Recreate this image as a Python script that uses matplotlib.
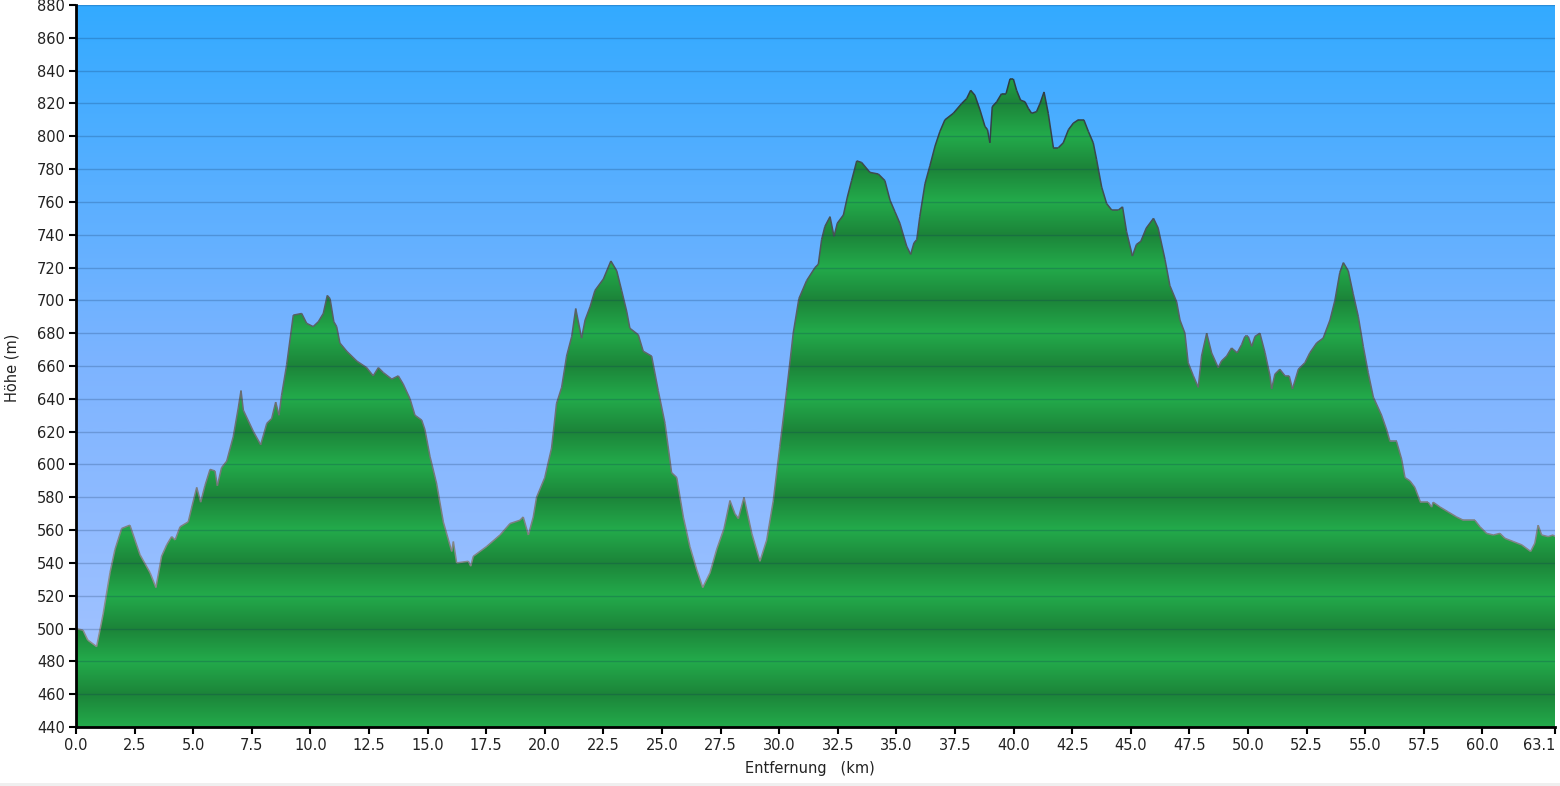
import numpy as np
import matplotlib
matplotlib.use("Agg")
import matplotlib.pyplot as plt
from matplotlib.colors import LinearSegmentedColormap, to_rgb
from matplotlib.patches import Polygon, Rectangle
from matplotlib.collections import LineCollection

# elevation profile (km, m)
distance_km = [
    0.0, 0.3, 0.5, 0.88, 1.16, 1.45, 1.66, 1.95, 2.3, 2.73,
    3.16, 3.41, 3.65, 3.87, 4.08, 4.23, 4.44, 4.79, 4.94, 5.15,
    5.32, 5.5, 5.72, 5.93, 6.03, 6.21, 6.43, 6.71, 6.93, 7.04,
    7.14, 7.57, 7.88, 8.14, 8.35, 8.52, 8.66, 8.77, 8.99, 9.27,
    9.63, 9.84, 10.12, 10.34, 10.55, 10.72, 10.84, 11.0, 11.12, 11.26,
    11.55, 11.98, 12.4, 12.68, 12.9, 13.11, 13.47, 13.75, 13.96, 14.25,
    14.46, 14.75, 14.89, 15.1, 15.39, 15.67, 16.03, 16.1, 16.24, 16.74,
    16.84, 16.95, 17.52, 18.09, 18.52, 18.94, 19.08, 19.3, 19.51, 19.65,
    20.0, 20.29, 20.5, 20.72, 20.93, 21.15, 21.32, 21.57, 21.72, 21.93,
    22.14, 22.5, 22.82, 23.07, 23.28, 23.5, 23.63, 23.99, 24.2, 24.56,
    24.84, 25.13, 25.41, 25.63, 25.91, 26.19, 26.48, 26.74, 27.05, 27.33,
    27.65, 27.9, 28.11, 28.26, 28.5, 28.83, 29.18, 29.47, 29.75, 30.03,
    30.32, 30.6, 30.84, 31.17, 31.53, 31.67, 31.81, 31.95, 32.17, 32.34,
    32.48, 32.74, 32.91, 33.09, 33.31, 33.52, 33.87, 34.23, 34.51, 34.73,
    34.94, 35.15, 35.44, 35.61, 35.75, 35.87, 36.0, 36.22, 36.43, 36.65,
    36.86, 37.07, 37.43, 37.79, 38.0, 38.17, 38.35, 38.57, 38.78, 38.89,
    38.99, 39.09, 39.28, 39.49, 39.68, 39.85, 39.99, 40.13, 40.3, 40.49,
    40.63, 40.77, 40.98, 41.13, 41.3, 41.48, 41.7, 41.91, 42.12, 42.34,
    42.55, 42.76, 43.0, 43.19, 43.4, 43.54, 43.76, 43.97, 44.19, 44.47,
    44.65, 44.82, 45.07, 45.24, 45.43, 45.66, 45.97, 46.17, 46.46, 46.67,
    46.96, 47.1, 47.31, 47.45, 47.67, 47.88, 48.02, 48.24, 48.45, 48.73,
    48.87, 49.09, 49.3, 49.54, 49.73, 49.87, 50.01, 50.16, 50.3, 50.51,
    50.73, 50.94, 51.01, 51.15, 51.36, 51.58, 51.76, 51.9, 52.15, 52.43,
    52.64, 52.93, 53.21, 53.5, 53.71, 53.92, 54.07, 54.28, 54.49, 54.71,
    54.92, 55.13, 55.35, 55.7, 55.92, 56.06, 56.34, 56.56, 56.7, 56.91,
    57.12, 57.36, 57.69, 57.84, 57.9, 58.2, 58.55, 58.9, 59.19, 59.47,
    59.68, 59.9, 60.18, 60.47, 60.75, 60.96, 61.32, 61.68, 62.06, 62.24,
    62.38, 62.53, 62.81, 63.02, 63.1,
]
elevation_m = [
    500, 499, 493, 489, 509, 534, 548, 561, 563, 545,
    534, 525, 544, 551, 556, 554, 562, 565, 574, 586,
    577, 587, 597, 596, 587, 598, 602, 617, 635, 645,
    633, 620, 612, 625, 628, 638, 630, 642, 661, 691,
    692, 686, 684, 687, 692, 703, 701, 687, 684, 674,
    669, 663, 659, 654, 659, 656, 652, 654, 649, 640,
    630, 627, 621, 605, 588, 565, 547, 553, 540, 541,
    538, 544, 550, 557, 564, 566, 568, 557, 568, 580,
    592, 610, 637, 647, 666, 678, 695, 677, 688, 696,
    706, 713, 724, 718, 706, 693, 683, 679, 669, 666,
    645, 625, 595, 592, 568, 550, 536, 525, 534, 548,
    561, 578, 570, 567, 580, 558, 541, 554, 578, 611,
    645, 680, 701, 712, 720, 722, 737, 745, 751, 739,
    747, 752, 763, 773, 785, 784, 778, 777, 773, 761,
    754, 747, 733, 728, 735, 737, 751, 771, 782, 794,
    803, 810, 814, 820, 823, 828, 825, 816, 806, 804,
    796, 818, 821, 826, 826, 835, 835, 828, 822, 821,
    817, 814, 815, 820, 827, 814, 793, 793, 796, 804,
    808, 810, 810, 803, 796, 786, 769, 759, 755, 755,
    757, 742, 727, 734, 736, 744, 750, 744, 725, 709,
    699, 688, 680, 662, 654, 647, 666, 680, 668, 659,
    663, 666, 671, 668, 673, 678, 678, 672, 678, 680,
    668, 654, 646, 655, 658, 654, 654, 646, 658, 662,
    668, 674, 677, 688, 700, 717, 723, 718, 704, 690,
    672, 656, 641, 630, 621, 614, 614, 603, 592, 590,
    586, 577, 577, 574, 577, 574, 571, 568, 566, 566,
    566, 562, 558, 557, 558, 555, 553, 551, 547, 552,
    563, 557, 556, 557, 556,
]

y_ticks = list(range(440, 881, 20))
x_ticks = [0.0, 2.5, 5.0, 7.5, 10.0, 12.5, 15.0, 17.5, 20.0, 22.5, 25.0, 27.5,
           30.0, 32.5, 35.0, 37.5, 40.0, 42.5, 45.0, 47.5, 50.0, 52.5, 55.0,
           57.5, 60.0, 63.1]

X_MIN, X_MAX = 0.0, 63.1
Y_MIN, Y_MAX = 440, 880

fig = plt.figure(figsize=(15.6, 7.86), dpi=100)
fig.patch.set_facecolor("white")
ax = fig.add_axes([76 / 1560, 1 - 727 / 786, 1479 / 1560, 722 / 786])

# sky gradient, light at the bottom, saturated blue at the top
sky = LinearSegmentedColormap.from_list("sky", ["#a9c5ff", "#7db4ff", "#33aaff"])
grad = np.linspace(0, 1, 400).reshape(-1, 1)
ax.imshow(grad, extent=[X_MIN, X_MAX, Y_MIN, Y_MAX], origin="lower",
          aspect="auto", cmap=sky, zorder=0, interpolation="bilinear")

# green fill with 40 m banded shading (dark at 40k, bright at 40k+20)
ys = np.linspace(Y_MIN, Y_MAX, 1800)
t = np.abs(((ys - 20) % 40) - 20) / 20.0
bright = np.array(to_rgb("#23ab4b"))
dark = np.array(to_rgb("#1c8439"))
band = bright[None, :] * (1 - t[:, None]) + dark[None, :] * t[:, None]
band_img = np.repeat(band[:, None, :], 2, axis=1)
im = ax.imshow(band_img, extent=[X_MIN, X_MAX, Y_MIN, Y_MAX], origin="lower",
               aspect="auto", zorder=1, interpolation="bilinear")
verts = [(distance_km[0], Y_MIN)] + list(zip(distance_km, elevation_m)) + [(distance_km[-1], Y_MIN)]
terrain = Polygon(verts, closed=True, facecolor="none", edgecolor="none")
ax.add_patch(terrain)
im.set_clip_path(terrain)

# outline, darker towards the summits
pts = np.column_stack([distance_km, elevation_m])
segs = np.stack([pts[:-1], pts[1:]], axis=1)
mid = (pts[:-1, 1] + pts[1:, 1]) / 2
k = np.clip((mid - 520) / (840 - 520), 0, 1)
light_c = np.array(to_rgb("#8c8c8c"))
dark_c = np.array(to_rgb("#2c3a40"))
seg_colors = light_c[None, :] * (1 - k[:, None]) + dark_c[None, :] * k[:, None]
ax.add_collection(LineCollection(segs, colors=seg_colors, linewidths=1.1, zorder=2))

# horizontal grid over everything
for yv in y_ticks[1:]:
    ax.axhline(yv, color="#0a2a55", alpha=0.22, linewidth=1.0, zorder=3)

ax.set_xlim(X_MIN, X_MAX)
ax.set_ylim(Y_MIN, Y_MAX)
ax.set_xticks(x_ticks)
ax.set_xticklabels([f"{v:.1f}" for v in x_ticks])
ax.set_yticks(y_ticks)
ax.set_yticklabels([str(v) for v in y_ticks])
ax.tick_params(direction="out", length=5, width=1.5, color="black",
               labelsize=10.5, labelcolor="#222222", pad=3)

# last distance label sits left of its tick, as in the original
ax.get_xticklabels()[-1].set_horizontalalignment("right")

for side in ("top", "right"):
    ax.spines[side].set_visible(False)
for side in ("left", "bottom"):
    ax.spines[side].set_linewidth(2)
    ax.spines[side].set_color("black")
    ax.spines[side].set_zorder(5)

fig.text(810 / 1560, 1 - 768 / 786, "Entfernung   (km)", ha="center", va="center",
         fontsize=10.5, color="#222222")
fig.text(12 / 1560, 1 - 368 / 786, "Höhe (m)", ha="center", va="center",
         rotation=90, fontsize=10.5, color="#222222")

# thin grey strip along the bottom edge
fig.patches.append(Rectangle((0, 0), 1, 3 / 786, transform=fig.transFigure,
                             facecolor="#efefef", edgecolor="none"))

plt.savefig("out.png", dpi=100)
